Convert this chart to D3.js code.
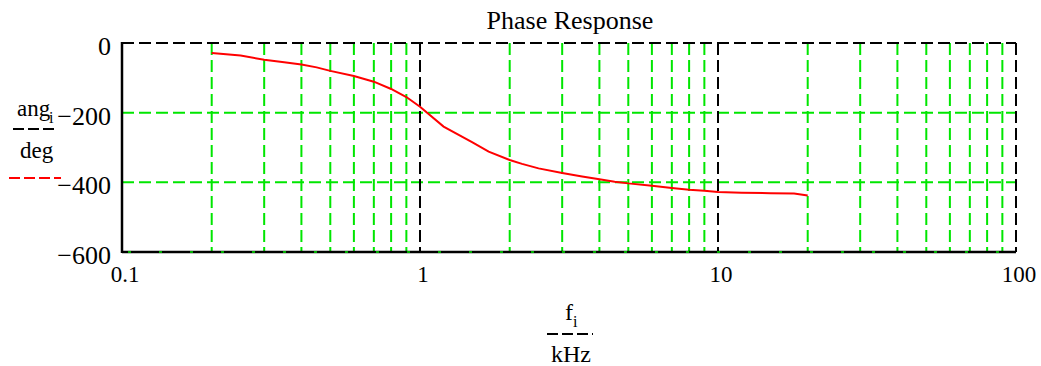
<!DOCTYPE html>
<html>
<head>
<meta charset="utf-8">
<script src="https://cdn.jsdelivr.net/npm/d3@7"></script>
<style>
  body { margin: 0; background: #fff; }
  text { font-family: "Liberation Serif", "Times New Roman", serif; fill: #000; }
</style>
</head>
<body>
<svg id="chart" width="1041" height="366"></svg>
<script>
// --data--
const freq_khz = [0.2, 0.25, 0.3, 0.35, 0.4, 0.45, 0.5, 0.6, 0.7, 0.8, 0.9, 1,
                  1.2, 1.5, 1.7, 2, 2.2, 2.5, 3, 3.5, 4, 4.5, 5, 6, 7, 8, 9, 10,
                  12, 15, 18, 20];
const angle_deg = [-29, -36, -48, -55, -62, -70, -80, -95, -111, -132, -155, -183,
                   -240, -285, -312, -336, -347, -360, -373, -383, -391, -398, -403, -410, -416, -421, -424, -428,
                   -430, -431, -432, -438];
const y_ticks = [0, -200, -400, -600];
const x_ticks = [0.1, 1, 10, 100];
const minor_x = [0.2, 0.3, 0.4, 0.5, 0.6, 0.7, 0.8, 0.9,
                 2, 3, 4, 5, 6, 7, 8, 9,
                 20, 30, 40, 50, 60, 70, 80, 90];

const svg = d3.select("#chart");
const p_left = 122, p_right = 1016, p_top = 43, p_bottom = 252;

const x = d3.scaleLog().domain([0.1, 100]).range([p_left, p_right]);
const y = d3.scaleLinear().domain([-600, 0]).range([p_bottom, p_top]);

const GREEN = "#00e600";
const DASH = "12,5";

// green grid, horizontal
svg.append("g").selectAll("line")
  .data(y_ticks)
  .join("line")
  .attr("x1", p_left).attr("x2", p_right)
  .attr("y1", d => y(d)).attr("y2", d => y(d))
  .attr("stroke", GREEN).attr("stroke-width", 2)
  .attr("stroke-dasharray", DASH);

// green grid, vertical minor
svg.append("g").selectAll("line")
  .data(minor_x)
  .join("line")
  .attr("x1", d => x(d)).attr("x2", d => x(d))
  .attr("y1", p_top).attr("y2", p_bottom)
  .attr("stroke", GREEN).attr("stroke-width", 2)
  .attr("stroke-dasharray", DASH);

// black dashed decade lines + right border
svg.append("g").selectAll("line")
  .data([1, 10, 100])
  .join("line")
  .attr("x1", d => x(d)).attr("x2", d => x(d))
  .attr("y1", p_top).attr("y2", p_bottom)
  .attr("stroke", "#000").attr("stroke-width", 2)
  .attr("stroke-dasharray", DASH);

// top border dashed black
svg.append("line")
  .attr("x1", p_left).attr("x2", p_right)
  .attr("y1", p_top).attr("y2", p_top)
  .attr("stroke", "#000").attr("stroke-width", 2)
  .attr("stroke-dasharray", DASH);

// solid axes left and bottom
svg.append("line")
  .attr("x1", p_left).attr("x2", p_left)
  .attr("y1", p_top - 1).attr("y2", p_bottom + 1)
  .attr("stroke", "#000").attr("stroke-width", 2.5);
svg.append("line")
  .attr("x1", p_left).attr("x2", p_right)
  .attr("y1", p_bottom).attr("y2", p_bottom)
  .attr("stroke", "#000").attr("stroke-width", 2.5);
svg.append("line")
  .attr("x1", p_left + 6).attr("x2", p_right)
  .attr("y1", p_bottom).attr("y2", p_bottom)
  .attr("stroke", GREEN).attr("stroke-width", 1.5)
  .attr("stroke-dasharray", "3,28");

// curve
const line = d3.line()
  .x((d, i) => x(freq_khz[i]))
  .y(d => y(d));

svg.append("path")
  .datum(angle_deg)
  .attr("d", line)
  .attr("fill", "none")
  .attr("stroke", "#ff0000")
  .attr("stroke-width", 2);

// tick labels
svg.append("g").selectAll("text")
  .data(y_ticks)
  .join("text")
  .attr("x", 111)
  .attr("y", d => y(d) + 12)
  .attr("text-anchor", "end")
  .style("font-size", "26px")
  .text(d => d === 0 ? "0" : "\u2212" + Math.abs(d));

svg.append("g").selectAll("text")
  .data(x_ticks)
  .join("text")
  .attr("x", d => x(d) + 3)
  .attr("y", 282)
  .attr("text-anchor", "middle")
  .style("font-size", "23px")
  .text(d => d);

// title
svg.append("text")
  .attr("x", 570).attr("y", 29)
  .attr("text-anchor", "middle")
  .style("font-size", "26px")
  .text("Phase Response");

// y label: ang_i / deg
const yl = svg.append("g");
yl.append("text").attr("x", 17).attr("y", 116).style("font-size", "23px").text("ang");
yl.append("text").attr("x", 49).attr("y", 123).style("font-size", "16px").text("i");
yl.append("line").attr("x1", 13).attr("x2", 58).attr("y1", 129).attr("y2", 129)
  .attr("stroke", "#000").attr("stroke-width", 2).attr("stroke-dasharray", "11,4");
yl.append("text").attr("x", 20).attr("y", 158).style("font-size", "23px").text("deg");
yl.append("line").attr("x1", 9).attr("x2", 61).attr("y1", 178).attr("y2", 178)
  .attr("stroke", "#ff0000").attr("stroke-width", 2).attr("stroke-dasharray", "11,4");

// x label: f_i / kHz
const xl = svg.append("g");
xl.append("text").attr("x", 565).attr("y", 320).style("font-size", "24px").text("f");
xl.append("text").attr("x", 573).attr("y", 327).style("font-size", "16px").text("i");
xl.append("line").attr("x1", 547).attr("x2", 593).attr("y1", 334).attr("y2", 334)
  .attr("stroke", "#000").attr("stroke-width", 2).attr("stroke-dasharray", "11,4");
xl.append("text").attr("x", 551).attr("y", 362).style("font-size", "24px").text("kHz");
</script>
</body>
</html>
